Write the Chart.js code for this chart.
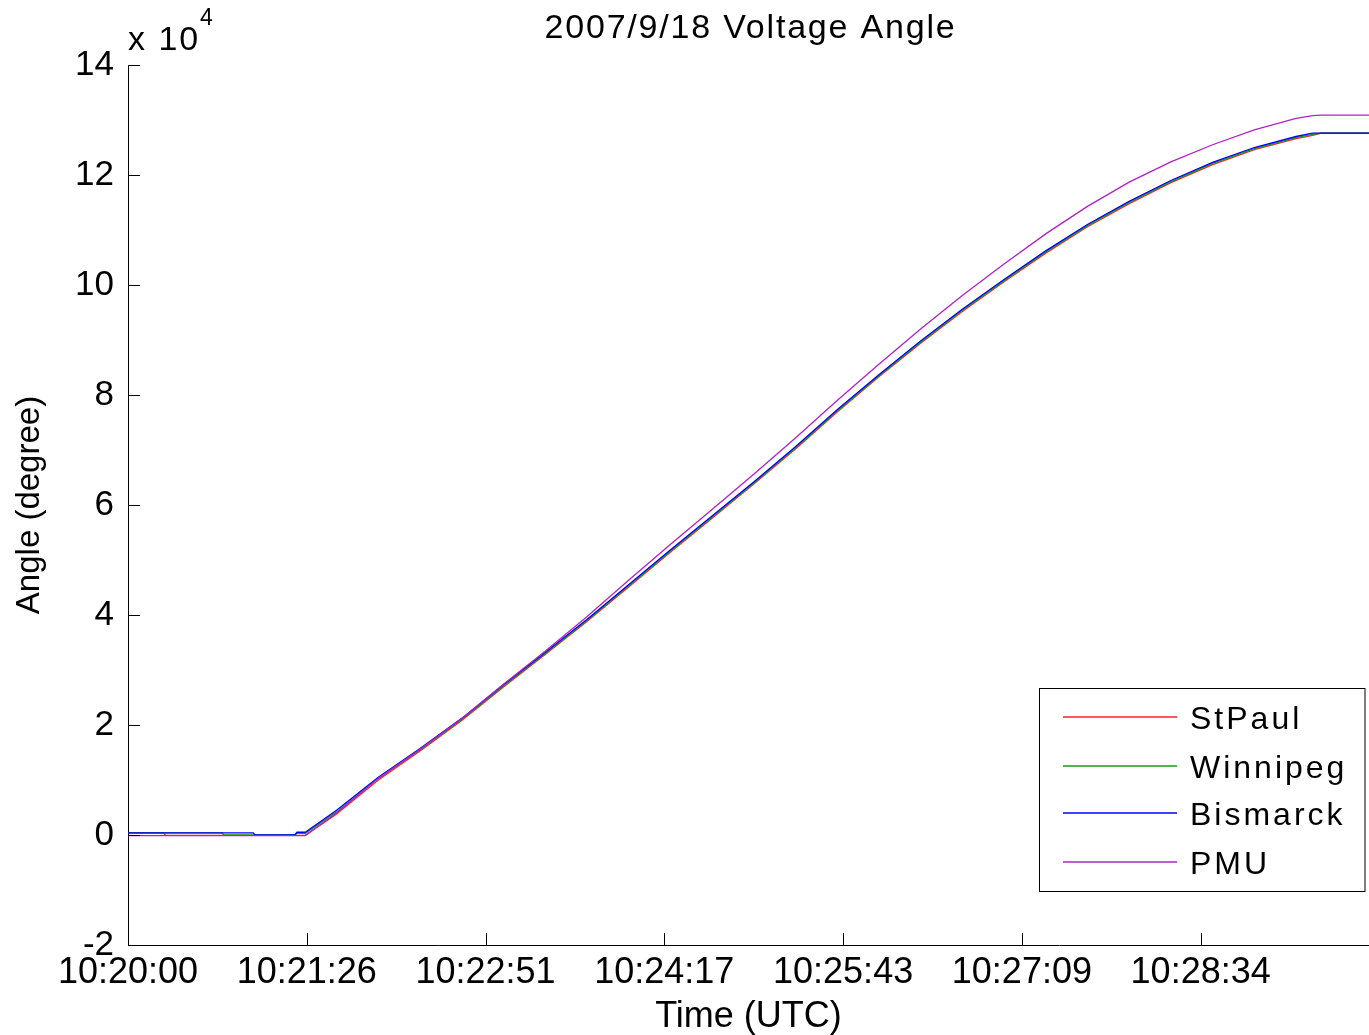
<!DOCTYPE html>
<html>
<head>
<meta charset="utf-8">
<script src="https://cdn.jsdelivr.net/npm/chart.js@4/dist/chart.umd.min.js"></script>
<style>
  html, body { margin: 0; padding: 0; background: #fff; }
  #wrap { width: 1369px; height: 1035px; }
</style>
</head>
<body>
<div id="wrap"><canvas id="c" width="1369" height="1035"></canvas></div>
<script>
// ---- data (angle values in units of 10^4 degrees, time in seconds after 10:20:00) ----
const times    = [0, 17, 18, 45, 46, 60, 61, 80, 81, 85, 100, 120, 140, 160, 180, 200, 220, 240, 260, 280, 300, 320, 340, 360, 380, 400, 420, 440, 460, 480, 500, 520, 540, 560, 568, 572, 595];
const stPaul   = [0.04, 0.04, -0.005, -0.005, -0.005, -0.005, -0.005, -0.005, -0.005, -0.005, 0.38, 1.0, 1.53, 2.08, 2.69, 3.28, 3.88, 4.51, 5.14, 5.76, 6.38, 7.02, 7.69, 8.33, 8.94, 9.52, 10.06, 10.58, 11.06, 11.48, 11.86, 12.19, 12.46, 12.66, 12.72, 12.76, 12.76];
const winnipeg = [0.04, 0.04, 0.04, 0.04, 0.0, 0.0, 0.0, 0.0, 0.03, 0.03, 0.42, 1.03, 1.55, 2.10, 2.71, 3.30, 3.90, 4.53, 5.16, 5.78, 6.40, 7.04, 7.71, 8.35, 8.96, 9.54, 10.08, 10.60, 11.08, 11.50, 11.88, 12.21, 12.48, 12.68, 12.74, 12.76, 12.76];
const bismarck = [0.04, 0.04, 0.04, 0.04, 0.04, 0.04, 0.0, 0.0, 0.05, 0.05, 0.45, 1.05, 1.57, 2.12, 2.73, 3.32, 3.92, 4.55, 5.18, 5.8, 6.42, 7.06, 7.73, 8.37, 8.98, 9.56, 10.1, 10.62, 11.1, 11.52, 11.9, 12.23, 12.5, 12.7, 12.76, 12.76, 12.76];
const pmu      = [-0.01, -0.01, -0.01, -0.01, -0.01, -0.01, -0.01, -0.01, -0.01, -0.01, 0.40, 1.03, 1.56, 2.12, 2.74, 3.34, 3.97, 4.63, 5.28, 5.92, 6.56, 7.22, 7.90, 8.56, 9.20, 9.81, 10.38, 10.93, 11.43, 11.87, 12.24, 12.55, 12.82, 13.03, 13.08, 13.09, 13.09];
const seriesNames  = ['StPaul', 'Winnipeg', 'Bismarck', 'PMU'];
const seriesColors = ['#ff2020', '#10a010', '#0000ff', '#b020c8'];
const xTickSeconds = [0, 85.714, 171.429, 257.143, 342.857, 428.571, 514.286];
const xTickLabels  = ['10:20:00', '10:21:26', '10:22:51', '10:24:17', '10:25:43', '10:27:09', '10:28:34'];
const yTicks       = [-2, 0, 2, 4, 6, 8, 10, 12, 14];

const FONT = "'Liberation Sans', Arial, Helvetica, sans-serif";
const seriesValues = [stPaul, winnipeg, bismarck, pmu];

const datasets = seriesNames.map((name, i) => ({
  label: name,
  data: times.map((t, k) => ({ x: t, y: seriesValues[i][k] })),
  borderColor: seriesColors[i],
  borderWidth: 1.3,
  pointRadius: 0,
  tension: 0,
  fill: false,
  order: 3 - i
}));

const decorPlugin = {
  id: 'decor',
  afterDraw(chart) {
    const ctx = chart.ctx;
    const xs = chart.scales.x, ys = chart.scales.y;
    const area = chart.chartArea;
    ctx.save();
    // inward tick marks
    ctx.strokeStyle = '#000';
    ctx.lineWidth = 1;
    ctx.beginPath();
    xs.ticks.forEach(t => {
      const px = Math.round(xs.getPixelForValue(t.value)) + 0.5;
      ctx.moveTo(px, area.bottom);
      ctx.lineTo(px, area.bottom - 12);
    });
    ys.ticks.forEach(t => {
      const py = Math.round(ys.getPixelForValue(t.value)) + 0.5;
      ctx.moveTo(area.left, py);
      ctx.lineTo(area.left + 12, py);
    });
    ctx.stroke();

    // title
    ctx.fillStyle = '#000';
    ctx.letterSpacing = '1.8px';
    ctx.font = '34px ' + FONT;
    ctx.textAlign = 'center';
    ctx.textBaseline = 'alphabetic';
    ctx.fillText('2007/9/18 Voltage Angle', (area.left + area.right) / 2 + 2, 38);

    // exponent label
    ctx.textAlign = 'left';
    ctx.letterSpacing = '2px';
    ctx.font = '34px ' + FONT;
    ctx.fillText('x 10', area.left, 50);
    ctx.letterSpacing = '0px';
    ctx.font = '23px ' + FONT;
    ctx.fillText('4', 200, 25);

    // legend
    const bx = 1039.5, by = 688.5, bw = 325.5, bh = 203;
    ctx.fillStyle = '#fff';
    ctx.fillRect(bx, by, bw, bh);
    ctx.strokeStyle = '#000';
    ctx.lineWidth = 1;
    ctx.strokeRect(bx, by, bw, bh);
    const rowY = [717, 766, 813, 862];
    ctx.font = '32px ' + FONT;
    ctx.letterSpacing = '3px';
    chart.data.datasets.forEach((ds, i) => {
      ctx.strokeStyle = ds.borderColor;
      ctx.lineWidth = 1.4;
      ctx.beginPath();
      ctx.moveTo(1063, rowY[i]);
      ctx.lineTo(1177, rowY[i]);
      ctx.stroke();
      ctx.fillStyle = '#000';
      ctx.textBaseline = 'alphabetic';
      ctx.fillText(ds.label, 1190, rowY[i] + 11.5);
    });
    ctx.restore();
  }
};

new Chart(document.getElementById('c'), {
  type: 'line',
  data: { datasets },
  options: {
    responsive: false,
    animation: false,
    devicePixelRatio: 1,
    layout: { padding: { top: 65, right: 0, left: 0, bottom: 0 } },
    plugins: {
      legend: { display: false },
      title: { display: false },
      tooltip: { enabled: false }
    },
    scales: {
      x: {
        type: 'linear',
        min: 0,
        max: 595,
        afterBuildTicks: s => { s.ticks = xTickSeconds.map(v => ({ value: v })); },
        afterFit: s => { s.height = 90; },
        ticks: {
          autoSkip: false,
          maxRotation: 0,
          color: '#000',
          padding: 6,
          font: { family: FONT, size: 36 },
          callback: (v, idx) => xTickLabels[idx]
        },
        grid: { display: false, drawTicks: false },
        border: { display: true, color: '#000', width: 1 },
        title: {
          display: true,
          text: 'Time (UTC)',
          color: '#000',
          font: { family: FONT, size: 36, lineHeight: 1.0 },
          padding: { top: 0, bottom: 0 }
        }
      },
      y: {
        min: -2,
        max: 14,
        afterBuildTicks: s => { s.ticks = yTicks.map(v => ({ value: v })); },
        afterFit: s => { s.width = 128; },
        ticks: {
          color: '#000',
          padding: 14,
          font: { family: FONT, size: 35 },
          callback: v => String(v)
        },
        grid: { display: false, drawTicks: false },
        border: { display: true, color: '#000', width: 1 },
        title: {
          display: true,
          text: 'Angle (degree)',
          color: '#000',
          font: { family: FONT, size: 33, lineHeight: 1.0 },
          padding: { top: 13, bottom: 0 }
        }
      }
    }
  },
  plugins: [decorPlugin]
});
</script>
</body>
</html>
